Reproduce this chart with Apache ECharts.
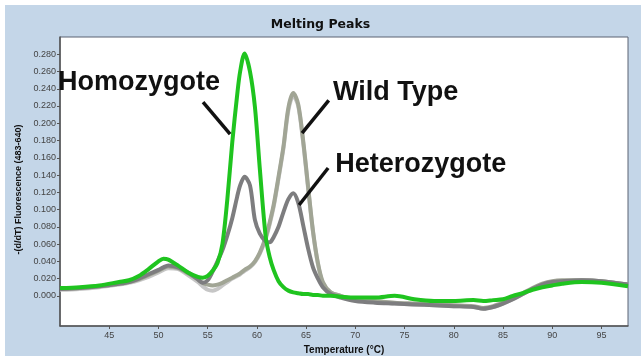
<!DOCTYPE html>
<html>
<head>
<meta charset="utf-8">
<script src="https://cdn.jsdelivr.net/npm/echarts@6/dist/echarts.min.js"></script>
<style>html,body{margin:0;padding:0;background:#fff}#c{width:641px;height:356px}</style>
</head>
<body>
<div id="c"></div>
<script>
// Temperatures (°C) shared by all curves
const temps = [40,42,44,46,47,48,49,50,50.5,51,52,53,54,54.5,55,55.5,56,56.5,57,57.5,58,58.3,58.75,59.3,59.8,60.3,60.9,61.3,61.7,62.2,62.7,63.2,63.7,64.2,64.7,65.2,65.7,66.2,66.7,67.5,68.5,70,72,74,76,78,80,82,83,84,85,86,87,88,89,90,91,93,95,97.7];

// -(d/dT) Fluorescence values
const homozygote = [0.009,0.010,0.012,0.016,0.018,0.023,0.031,0.040,0.043,0.042,0.035,0.027,0.022,0.021,0.023,0.029,0.038,0.060,0.112,0.178,0.233,0.260,0.281,0.260,0.219,0.147,0.068,0.045,0.030,0.017,0.010,0.006,0.004,0.003,0.002,0.002,0.001,0.001,0.000,0.000,-0.001,-0.002,-0.002,0.000,-0.004,-0.006,-0.006,-0.005,-0.006,-0.005,-0.004,0.000,0.003,0.007,0.010,0.012,0.014,0.016,0.015,0.011];

const wildType = [0.008,0.009,0.011,0.014,0.016,0.019,0.024,0.029,0.032,0.034,0.032,0.026,0.019,0.015,0.013,0.012,0.013,0.015,0.018,0.021,0.024,0.026,0.030,0.034,0.040,0.050,0.068,0.085,0.105,0.138,0.173,0.218,0.235,0.222,0.180,0.127,0.075,0.038,0.016,0.004,0.000,-0.004,-0.006,-0.008,-0.009,-0.010,-0.011,-0.012,-0.014,-0.012,-0.008,-0.003,0.003,0.009,0.014,0.017,0.018,0.018,0.017,0.013];

const wildType2 = [0.007,0.008,0.010,0.013,0.015,0.018,0.022,0.027,0.030,0.032,0.031,0.024,0.016,0.011,0.007,0.006,0.008,0.012,0.016,0.020,0.023,0.025,0.029,0.033,0.039,0.049,0.066,0.083,0.103,0.136,0.171,0.215,0.232,0.220,0.178,0.125,0.074,0.037,0.015,0.004,0.000,-0.005,-0.007,-0.009,-0.010,-0.011,-0.012,-0.013,-0.015,-0.013,-0.009,-0.004,0.002,0.008,0.013,0.016,0.017,0.018,0.017,0.013];

const heterozygote = [0.008,0.009,0.011,0.014,0.016,0.020,0.025,0.030,0.033,0.035,0.033,0.027,0.019,0.015,0.018,0.028,0.040,0.053,0.070,0.090,0.115,0.128,0.138,0.128,0.088,0.072,0.063,0.062,0.068,0.080,0.097,0.112,0.119,0.108,0.082,0.055,0.033,0.020,0.010,0.002,-0.002,-0.006,-0.008,-0.009,-0.010,-0.011,-0.012,-0.013,-0.015,-0.013,-0.009,-0.004,0.002,0.008,0.013,0.016,0.017,0.018,0.017,0.013];

// Axis tick labels
const xTicks = [45,50,55,60,65,70,75,80,85,90,95];
const yTicks = [0,0.02,0.04,0.06,0.08,0.10,0.12,0.14,0.16,0.18,0.20,0.22,0.24,0.26,0.28];

// Annotations (data coordinates)
const annotations = [
  {text:'Homozygote', at:[39.8,0.2470], line:[[54.53,0.2246],[57.28,0.1875]]},
  {text:'Wild Type', at:[67.74,0.2351], line:[[64.59,0.1887],[67.3,0.2265]]},
  {text:'Heterozygote', at:[67.95,0.1520], line:[[64.29,0.1053],[67.24,0.1481]]}
];

const pair = arr => temps.map((t,i)=>[t,arr[i]]);
const chart = echarts.init(document.getElementById('c'), null, {renderer:'canvas'});
const lineSeries = (name, arr, color, w) => ({
  name, type:'line', data:pair(arr), showSymbol:false, smooth:0.3,
  lineStyle:{color, width:w}, itemStyle:{color}, silent:true, animation:false
});

chart.setOption({
  backgroundColor:'#c4d6e8',
  animation:false,
  title:{text:'Melting Peaks', left:'center', top:13,
    textStyle:{fontFamily:'DejaVu Sans', fontSize:12.5, fontWeight:'bold', color:'#111'}},
  grid:{left:60, top:37, right:13, bottom:30, containLabel:false, outerBoundsMode:'none',
    show:true, backgroundColor:'#ffffff', borderColor:'#5b6272', borderWidth:1},
  xAxis:{type:'value', min:40, max:97.7,
    name:'Temperature (°C)', nameLocation:'middle', nameGap:17,
    nameTextStyle:{fontFamily:'Liberation Sans', fontSize:10, fontWeight:'bold', color:'#111'},
    axisLine:{onZero:false, lineStyle:{color:'#555', width:1.5}},
    axisTick:{customValues:xTicks, length:3, lineStyle:{color:'#555'}},
    axisLabel:{customValues:xTicks, fontFamily:'Liberation Sans', fontSize:9, color:'#444', margin:5},
    splitLine:{show:false}},
  yAxis:{type:'value', min:-0.035, max:0.30,
    name:'-(d/dT) Fluorescence (483-640)', nameLocation:'middle', nameGap:30, nameRotate:90,
    nameTextStyle:{fontFamily:'Liberation Sans', fontSize:9, fontWeight:'bold', color:'#111', padding:[0,16,0,0]},
    axisLine:{onZero:false, lineStyle:{color:'#555', width:1.5}},
    axisTick:{customValues:yTicks, length:3, lineStyle:{color:'#555'}},
    axisLabel:{customValues:yTicks, formatter:v=>v.toFixed(3), fontFamily:'Liberation Sans', fontSize:9, color:'#444', margin:4},
    splitLine:{show:false}},
  series:[
    lineSeries('Wild Type 2', wildType2, '#c6c6c6', 4),
    lineSeries('Wild Type', wildType, '#a1a595', 4),
    lineSeries('Heterozygote', heterozygote, '#7d7d7f', 4),
    lineSeries('Homozygote', homozygote, '#1fc41f', 4)
  ]
});

const g = [
  {type:'rect', shape:{x:0,y:0,width:641,height:5}, style:{fill:'#fff'}, silent:true},
  {type:'rect', shape:{x:0,y:0,width:5,height:356}, style:{fill:'#fff'}, silent:true}
];
annotations.forEach(a=>{
  const p = chart.convertToPixel({gridIndex:0}, a.at);
  const p1 = chart.convertToPixel({gridIndex:0}, a.line[0]);
  const p2 = chart.convertToPixel({gridIndex:0}, a.line[1]);
  g.push({type:'line', shape:{x1:p1[0],y1:p1[1],x2:p2[0],y2:p2[1]}, style:{stroke:'#111', lineWidth:3.5}, z:100, silent:true});
  g.push({type:'text', x:p[0], y:p[1], style:{text:a.text, font:'bold 27px "Liberation Sans", Arial', fill:'#111', align:'left', verticalAlign:'middle'}, z:100, silent:true});
});
chart.setOption({graphic:g});
</script>
</body>
</html>
